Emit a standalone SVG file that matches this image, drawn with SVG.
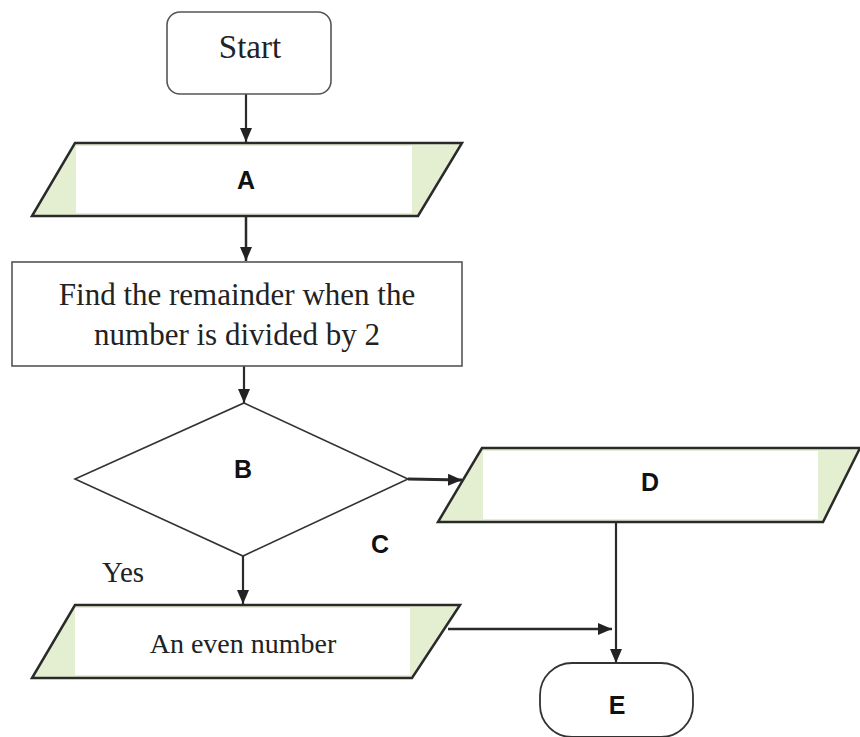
<svg xmlns="http://www.w3.org/2000/svg" width="860" height="737" viewBox="0 0 860 737">
<style>
.serif{font-family:"Liberation Serif","Times New Roman",serif;fill:#222;text-anchor:middle}
.bold{font-family:"Liberation Sans",Arial,sans-serif;font-weight:bold;fill:#111;text-anchor:middle;font-size:25px}
.para{fill:#e4efd2;stroke:none}
.paraline{fill:none;stroke:#2a2a2a;stroke-width:2.5;stroke-linejoin:miter}
.inner{fill:#ffffff}
.conn{stroke:#2a2a2a;fill:none}
</style>
<defs>
<marker id="ah" viewBox="0 0 14 12" refX="14" refY="6" markerWidth="14" markerHeight="12" markerUnits="userSpaceOnUse" orient="auto">
<path d="M0,0 L14,6 L0,12 z" fill="#222"/>
</marker>
</defs>
<rect width="860" height="737" fill="#ffffff"/>
<g id="connectors">
<line class="conn" x1="246" y1="94" x2="246" y2="142" stroke-width="2.2" marker-end="url(#ah)"/>
<line class="conn" x1="246" y1="216" x2="246" y2="261" stroke-width="2.5" marker-end="url(#ah)"/>
<line class="conn" x1="244" y1="366" x2="244" y2="403" stroke-width="2.2" marker-end="url(#ah)"/>
<line class="conn" x1="243" y1="556" x2="243" y2="604" stroke-width="2.2" marker-end="url(#ah)"/>
<line class="conn" x1="408" y1="479" x2="462" y2="480" stroke-width="3" marker-end="url(#ah)"/>
<line class="conn" x1="448" y1="629" x2="612" y2="629" stroke-width="2.5" marker-end="url(#ah)"/>
<line class="conn" x1="616" y1="522" x2="616" y2="663" stroke-width="2.2" marker-end="url(#ah)"/>
</g>
<g id="start">
<rect x="167" y="12" width="164" height="82" rx="13" fill="#fff" stroke="#555" stroke-width="1.6"/>
<text class="serif" x="250" y="58" font-size="33">Start</text>
</g>
<g id="A">
<polygon class="para" points="75,143 462,143 418,216 32,216"/>
<rect class="inner" x="76" y="146" width="336" height="67"/>
<polygon class="paraline" points="75,143 462,143 418,216 32,216"/>
<text class="bold" x="246" y="189">A</text>
</g>
<g id="process">
<rect x="12" y="262" width="450" height="104" fill="#fff" stroke="#555" stroke-width="1.6"/>
<text class="serif" x="237" y="305" font-size="31">Find the remainder when the</text>
<text class="serif" x="237" y="345" font-size="31">number is divided by 2</text>
</g>
<g id="B">
<polygon points="244,403 408,479 243,556 75,479" fill="#fff" stroke="#333" stroke-width="1.6"/>
<text class="bold" x="243" y="478">B</text>
</g>
<g id="C">
<text class="bold" x="380" y="553">C</text>
</g>
<g id="yes">
<text class="serif" x="123" y="582" font-size="29">Yes</text>
</g>
<g id="D">
<polygon class="para" points="482,448 860,448 823,522 438,522"/>
<rect class="inner" x="483" y="451" width="335" height="68"/>
<polygon class="paraline" points="482,448 860,448 823,522 438,522"/>
<text class="bold" x="650" y="491">D</text>
</g>
<g id="even">
<polygon class="para" points="75,605 460,605 412,678 32,678"/>
<rect class="inner" x="75" y="608" width="335" height="67"/>
<polygon class="paraline" points="75,605 460,605 412,678 32,678"/>
<text class="serif" x="243" y="653" font-size="28">An even number</text>
</g>
<g id="E">
<rect x="540" y="663" width="153" height="74" rx="32" ry="32" fill="#fff" stroke="#333" stroke-width="1.8"/>
<text class="bold" x="617" y="714">E</text>
</g>
</svg>
